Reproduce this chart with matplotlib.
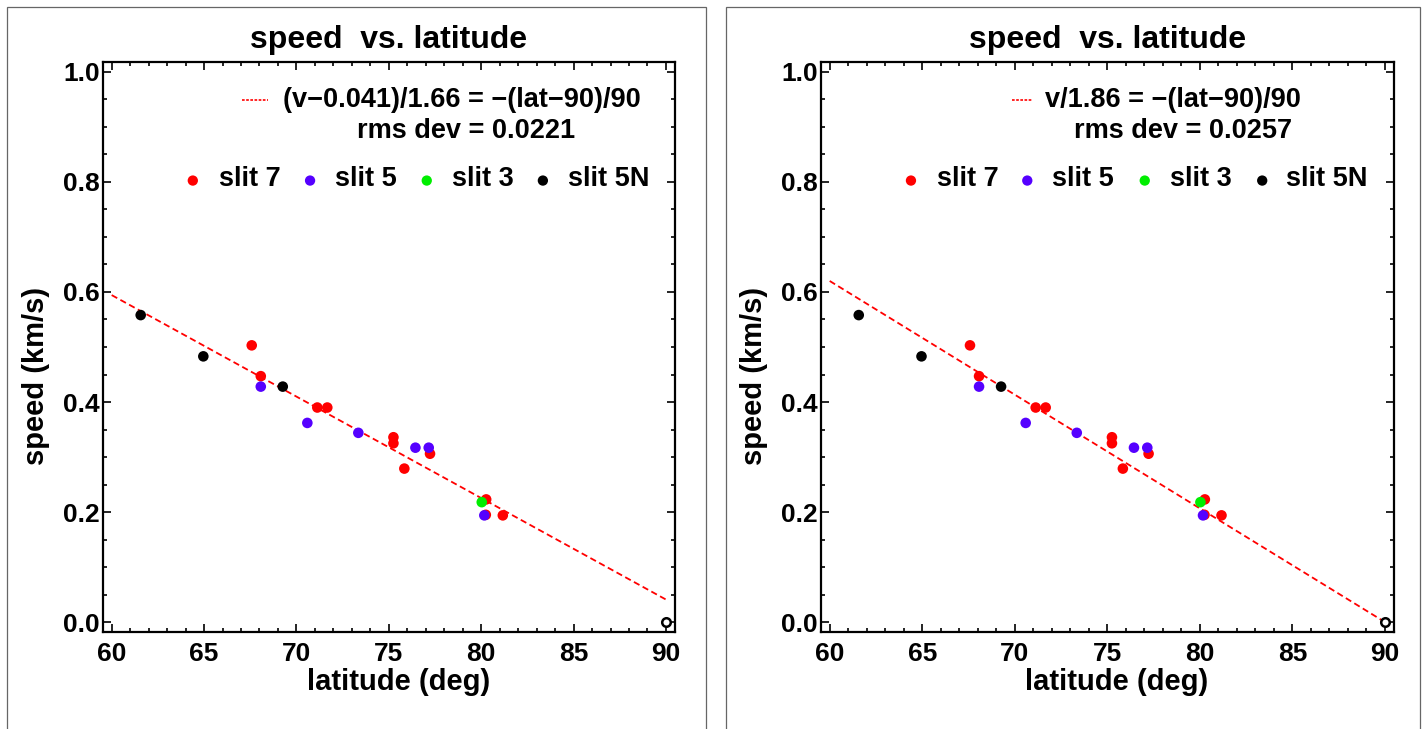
import matplotlib
matplotlib.use("Agg")
import matplotlib.pyplot as plt
import numpy as np
from matplotlib.patches import Rectangle
from matplotlib.ticker import MultipleLocator, FormatStrFormatter

plt.rcParams['font.family'] = ['Liberation Sans', 'DejaVu Sans']
plt.rcParams['font.weight'] = 'bold'

# data (same points in both panels)
slit7_lat = [67.58, 68.07, 71.13, 71.67, 75.25, 75.25, 77.23, 75.84, 80.27, 80.25, 81.17]
slit7_v = [0.503, 0.447, 0.390, 0.390, 0.336, 0.325, 0.306, 0.279, 0.223, 0.195, 0.194]
slit5_lat = [68.07, 70.59, 73.35, 76.44, 77.16, 80.17]
slit5_v = [0.428, 0.362, 0.344, 0.317, 0.317, 0.194]
slit3_lat = [80.03]
slit3_v = [0.218]
slit5n_lat = [61.57, 64.96, 69.26]
slit5n_v = [0.558, 0.483, 0.428]
pole_lat = [90.0]
pole_v = [0.0]

# fits: v = offset + scale*(90-lat)/90
fit_offset = [0.041, 0.0]
fit_scale = [1.66, 1.86]
fit_label = ["(v\u22120.041)/1.66 = \u2212(lat\u221290)/90", "v/1.86 = \u2212(lat\u221290)/90"]
rms_label = ["rms dev = 0.0221", "rms dev = 0.0257"]

slit_names = ["slit 7", "slit 5", "slit 3", "slit 5N"]
slit_colors = ["#ff0000", "#5500ff", "#00ee00", "#000000"]

W, H = 1423, 729
fig = plt.figure(figsize=(W / 100, H / 100), dpi=100)

# outer gray frames
for x0, x1 in [(7, 706), (726, 1420)]:
    fig.add_artist(Rectangle((x0 / W, -0.05), (x1 - x0) / W, 1.05 - 7 / H,
                             transform=fig.transFigure, fill=False,
                             edgecolor="#666666", lw=0.9))

axes_px = [(103, 675), (821, 1394)]
# legend layout per panel (axes fraction)
leg_line_x = [(0.243, 0.288), (0.333, 0.368)]
leg_text_x = [0.315, 0.391]
rms_x = [0.635, 0.632]
mark_x = [[0.157, 0.362, 0.566, 0.769], [0.157, 0.360, 0.565, 0.770]]
name_x = [[0.203, 0.406, 0.610, 0.813], [0.202, 0.403, 0.609, 0.812]]

for i in range(2):
    l, r = axes_px[i]
    ax = fig.add_axes([l / W, 1 - 632 / H, (r - l) / W, 570 / H])
    ax.set_xlim(59.53, 90.49)
    ax.set_ylim(-0.018, 1.018)

    lat = np.array([60.0, 90.0])
    ax.plot(lat, fit_offset[i] + fit_scale[i] * (90 - lat) / 90, color="red",
            lw=1.3, dashes=(3.5, 2.0), zorder=2)

    groups = [(slit7_lat, slit7_v), (slit5_lat, slit5_v), (slit3_lat, slit3_v), (slit5n_lat, slit5n_v)]
    for (x, y), c in zip(groups, slit_colors):
        ax.scatter(x, y, s=58, color=c, edgecolors="none", zorder=3)
    ax.scatter(pole_lat, pole_v, s=38, facecolors="white", edgecolors="black", linewidths=1.8, zorder=4)

    ax.xaxis.set_major_locator(MultipleLocator(5))
    ax.xaxis.set_minor_locator(MultipleLocator(1))
    ax.yaxis.set_major_locator(MultipleLocator(0.2))
    ax.yaxis.set_minor_locator(MultipleLocator(0.05))
    ax.yaxis.set_major_formatter(FormatStrFormatter('%.1f'))
    ax.tick_params(which="both", direction="in", top=True, right=True, width=1.2, labelsize=19)
    ax.tick_params(which="major", length=5.5)
    ax.tick_params(axis="x", which="major", pad=7)
    ax.tick_params(axis="y", which="major", pad=2.5)
    ax.tick_params(which="minor", length=3)
    for lab in ax.get_xticklabels() + ax.get_yticklabels():
        lab.set_fontweight("bold")
    for s in ax.spines.values():
        s.set_linewidth(1.6)

    ax.set_xlabel("latitude (deg)", fontsize=21, fontweight="bold")
    ax.xaxis.set_label_coords(0.516, -0.064)
    ax.set_ylabel("speed (km/s)", fontsize=21, fontweight="bold")
    ax.yaxis.set_label_coords(-0.093, 0.449)
    ax.set_title("speed  vs. latitude", fontsize=23, fontweight="bold", pad=10)

    # legend drawn by hand
    ax.plot(leg_line_x[i], [0.933, 0.933], transform=ax.transAxes, color="red",
            lw=1.2, dashes=(1.6, 0.9), clip_on=False)
    ax.text(leg_text_x[i], 0.933, fit_label[i], transform=ax.transAxes,
            fontsize=19.5, fontweight="bold", va="center", ha="left")
    ax.text(rms_x[i], 0.879, rms_label[i], transform=ax.transAxes,
            fontsize=19.5, fontweight="bold", va="center", ha="center")
    for mx, nx, name, c in zip(mark_x[i], name_x[i], slit_names, slit_colors):
        ax.scatter([mx], [0.792], s=55, color=c, edgecolors="none", transform=ax.transAxes)
        ax.text(nx, 0.795, name, transform=ax.transAxes, fontsize=19.5,
                fontweight="bold", va="center", ha="left")

fig.savefig("out.png", dpi=100)
